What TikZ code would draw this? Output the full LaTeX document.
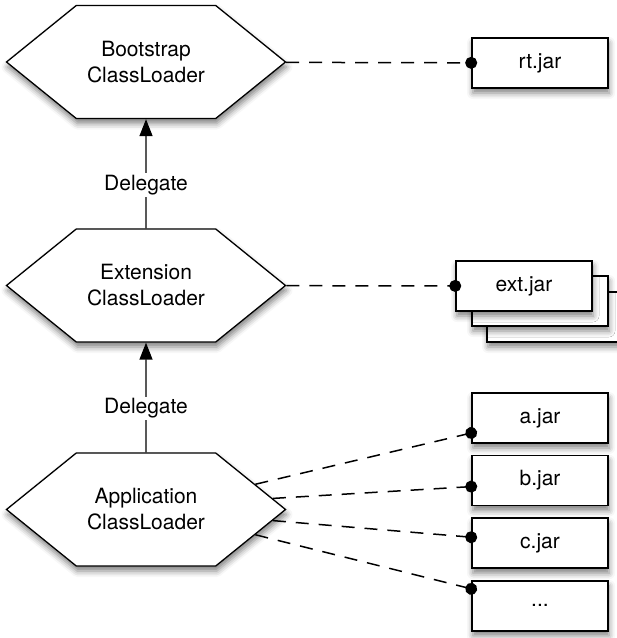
\documentclass[tikz,border=0pt]{standalone}
\usepackage{fontspec}
\setmainfont{TeX Gyre Heros}
\usepackage{tikz}
\usetikzlibrary{positioning,arrows.meta,shapes.symbols,shadows,shadows.blur}
\tikzstyle{loader} = [signal, signal to=west and east, signal pointer angle=78,
                      draw, line width=1.3pt, fill=white, align=center,
                      minimum width=279pt, minimum height=113pt,
                      blur shadow={shadow xshift=1pt, shadow yshift=-5pt, shadow blur radius=6pt, shadow opacity=50}]
\tikzstyle{jar}      = [rectangle, draw, line width=1.6pt, fill=white,
                        minimum width=136pt, minimum height=50pt,
                        blur shadow={shadow xshift=1pt, shadow yshift=-5pt, shadow blur radius=6pt, shadow opacity=50}]
\tikzstyle{link}     = [line width=1.5pt, dash pattern=on 13pt off 10pt,
                        -{Circle[length=12pt]}, shorten >=-6pt]
\tikzstyle{delegate} = [line width=1.4pt, -{Triangle[length=17pt,width=13pt]}]

\begin{document}
\begin{tikzpicture}[x=1pt, y=-1pt, font=\fontsize{21}{26}\selectfont,
            label/.style={fill=white, inner sep=2pt}]
        \useasboundingbox (0,0) rectangle (617,638);

        % class loaders
        \node[loader] (boot) at (146,62)    {Bootstrap\\ClassLoader};
        \node[loader] (ext)  at (146,285.5) {Extension\\ClassLoader};
        \node[loader] (app)  at (146,509.5) {Application\\ClassLoader};

        % jars
        \node[jar] (rtjar)   at (540,63)  {rt.jar};
        \node[jar] (extjarc) at (555,317) {};
        \node[jar] (extjarb) at (540,301) {};
        \node[jar] (extjar)  at (524,286) {ext.jar};
        \node[jar] (ajar)    at (540,418) {a.jar};
        \node[jar, below=11pt of ajar] (bjar)    {b.jar};
        \node[jar, below=11pt of bjar] (cjar)    {c.jar};
        \node[jar, below=11pt of cjar] (morejar) {...};

        \draw[delegate] (ext) -- node[label, pos=0.4] {Delegate} (boot);
        \draw[delegate] (app) -- node[label, pos=0.4] {Delegate} (ext);

        \draw[link] (boot) -- (rtjar);
        \draw[link] (ext) -- (extjar);
        \draw[link] (app.13) -- ([yshift=-15pt]ajar.west);
        \draw[link] (app.5) -- ([yshift=-6pt]bjar.west);
        \draw[link] (app.-5) -- ([yshift=6pt]cjar.west);
        \draw[link] (app.-13) -- ([yshift=17pt]morejar.west);
    \end{tikzpicture}
\end{document}
